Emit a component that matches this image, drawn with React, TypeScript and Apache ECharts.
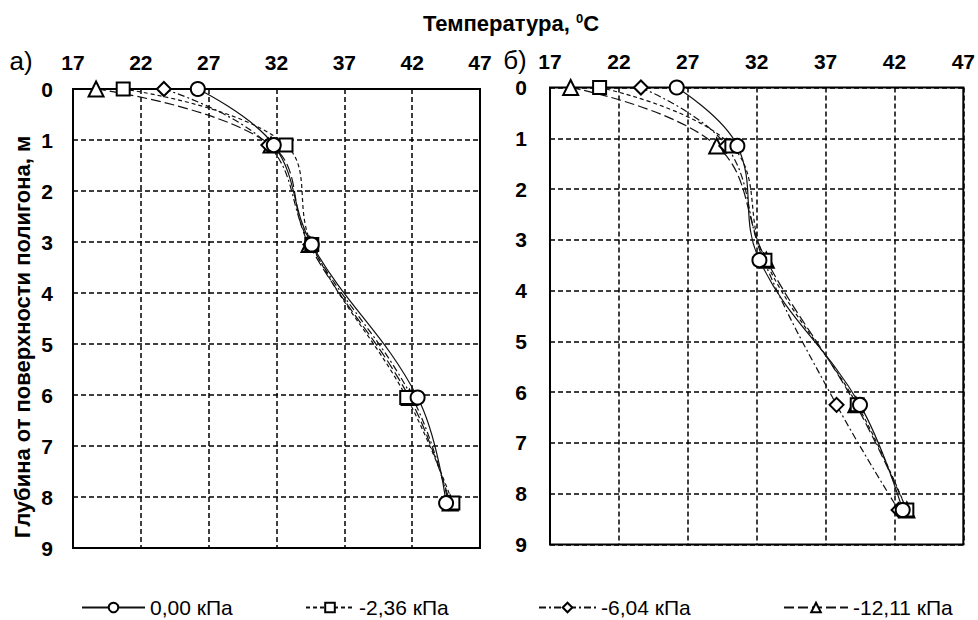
import React, { useEffect, useRef } from "react";
import * as echarts from "echarts";

// ---- data ----
const seriesNames = ["0,00 кПа", "-2,36 кПа", "-6,04 кПа", "-12,11 кПа"];
const xTicks = [17, 22, 27, 32, 37, 42, 47];
const yTicks = [0, 1, 2, 3, 4, 5, 6, 7, 8, 9];

// panel а)
const depthsA = [0, 1.1, 3.05, 6.05, 8.12];
const tempA_0 = [26.2, 31.8, 34.6, 42.4, 44.5];
const tempA_236 = [20.7, 32.7, 34.6, 41.6, 45.0];
const tempA_604 = [23.7, 31.4, 34.5, 42.0, 44.7];
const tempA_1211 = [18.7, 31.6, 34.4, 41.8, 44.8];

// panel б)
const depthsB = [0, 1.15, 3.4, 6.25, 8.32];
const tempB_0 = [26.2, 30.6, 32.2, 39.5, 42.6];
const tempB_236 = [20.6, 30.2, 32.6, 39.3, 42.9];
const tempB_604 = [23.6, 29.8, 32.5, 37.8, 42.3];
const tempB_1211 = [18.5, 29.1, 32.7, 39.2, 42.9];

const FONT = "Liberation Sans, Arial, sans-serif";

export default function App() {
  const ref = useRef<HTMLDivElement>(null);
  useEffect(() => {
    if (!ref.current) return;
    const chart = echarts.init(ref.current, null, { renderer: "svg" });
    const xMin = xTicks[0];
    const xMax = xTicks[xTicks.length - 1];
    const xStep = xTicks[1] - xTicks[0];
    const symbols = ["circle", "rect", "diamond", "triangle"];
    const sizes = [14, 13, 14, 15];
    const dashes: any[] = ["solid", [4, 3], [7, 3, 2, 3], [10, 4]];
    const panels = [
      { depths: depthsA, temps: [tempA_0, tempA_236, tempA_604, tempA_1211] },
      { depths: depthsB, temps: [tempB_0, tempB_236, tempB_604, tempB_1211] },
    ];
    const series: any[] = [];
    panels.forEach((p, pi) => {
      p.temps.forEach((arr, si) => {
        series.push({
          name: seriesNames[si],
          type: "line",
          xAxisIndex: pi,
          yAxisIndex: pi,
          smooth: 0.4,
          data: arr.map((t, i) => [t - xMin, p.depths[i]]),
          symbol: symbols[si],
          symbolSize: sizes[si],
          lineStyle: { color: "#111", width: 1.2, type: dashes[si] },
          itemStyle: { color: "#fff", borderColor: "#000", borderWidth: 2 },
          z: 3 + (3 - si),
        });
      });
    });

    const splitStyle = { show: true, lineStyle: { color: "#000", width: 1.5, type: [5, 3] } };
    const makeX = (gi: number) => ({
      gridIndex: gi,
      type: "value",
      position: "top",
      min: 0,
      max: xMax - xMin,
      interval: xStep,
      axisLine: { show: false },
      axisTick: { show: false },
      splitLine: splitStyle,
      axisLabel: {
        margin: 16,
        fontSize: 21,
        fontWeight: "bold",
        fontFamily: FONT,
        color: "#000",
        formatter: (v: number) => String(v + xMin),
      },
    });
    const makeY = (gi: number, margin: number) => ({
      gridIndex: gi,
      type: "value",
      inverse: true,
      min: yTicks[0],
      max: yTicks[yTicks.length - 1],
      interval: yTicks[1] - yTicks[0],
      axisLine: { show: false },
      axisTick: { show: false },
      splitLine: splitStyle,
      axisLabel: {
        margin,
        fontSize: 21,
        fontWeight: "bold",
        fontFamily: FONT,
        color: "#000",
      },
    });

    const legendPos = [
      { left: 81, w: 63 },
      { left: 305, w: 48 },
      { left: 538, w: 57 },
      { left: 783, w: 64 },
    ];

    chart.setOption({
      animation: false,
      backgroundColor: "#fff",
      grid: [
        { left: 73, top: 89, width: 407, height: 459, show: true, borderColor: "#000", borderWidth: 2, backgroundColor: "transparent" },
        { left: 550, top: 87.5, width: 414, height: 457, show: true, borderColor: "#000", borderWidth: 2, backgroundColor: "transparent" },
      ],
      xAxis: [makeX(0), makeX(1)],
      yAxis: [makeY(0, 20), makeY(1, 23)],
      legend: legendPos.map((lp, i) => ({
        data: [seriesNames[i]],
        left: lp.left,
        top: 597,
        itemWidth: lp.w,
        itemHeight: 12,
        itemGap: 4,
        padding: 0,
        selectedMode: false,
        textStyle: { fontSize: 21, lineHeight: 21, fontFamily: FONT, color: "#000" },
      })),
      graphic: [
        {
          type: "text",
          x: 511,
          y: 23,
          style: {
            text: "{a|Температура, }{s|0}{a|C}",
            align: "center",
            verticalAlign: "middle",
            rich: {
              a: { fontSize: 22, fontWeight: "bold", fontFamily: FONT, fill: "#000" },
              s: { fontSize: 13, fontWeight: "bold", fontFamily: FONT, fill: "#000", verticalAlign: "top", padding: [0, 0, 7, 0] },
            },
          },
        },
        {
          type: "text",
          x: 21,
          y: 61,
          style: { text: "а)", align: "center", verticalAlign: "middle", fontSize: 26, fontFamily: FONT, fill: "#000" },
        },
        {
          type: "text",
          x: 515,
          y: 60,
          style: { text: "б)", align: "center", verticalAlign: "middle", fontSize: 26, fontFamily: FONT, fill: "#000" },
        },
        {
          type: "text",
          x: 22,
          y: 337,
          rotation: Math.PI / 2,
          style: {
            text: "Глубина от поверхности полигона, м",
            align: "center",
            verticalAlign: "middle",
            fontSize: 22,
            fontWeight: "bold",
            fontFamily: FONT,
            fill: "#000",
          },
        },
      ],
      series,
    });
    return () => chart.dispose();
  }, []);
  return <div ref={ref} style={{ position: "fixed", left: 0, top: 0, width: 978, height: 620 }} />;
}
